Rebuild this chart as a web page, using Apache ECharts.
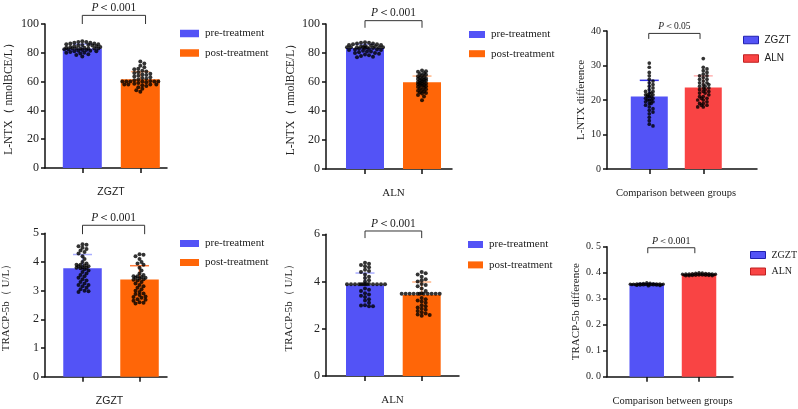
<!DOCTYPE html>
<html><head><meta charset="utf-8">
<script src="https://cdn.jsdelivr.net/npm/echarts@6/dist/echarts.min.js"></script>
<style>html,body{margin:0;padding:0;background:#fff}#c{width:798px;height:409px}</style>
</head><body><div id="c"></div>
<script>
// ---------------- data ----------------
const treatNames = ['pre-treatment', 'post-treatment'];
const groupNames = ['ZGZT', 'ALN'];
const xNames = ['ZGZT', 'ALN', 'Comparison between groups', 'ZGZT', 'ALN', 'Comparison between groups'];
const yNames = ['L-NTX（ nmolBCE/L）', 'L-NTX（ nmolBCE/L）', 'L-NTX difference', 'TRACP-5b（ U/L）', 'TRACP-5b（ U/L）', 'TRACP-5b difference'];
const pValues = ['0.001', '0.001', '0.05', '0.001', '0.001', '0.001'];

const lntxZgztMean = [83.0, 61.6];
const lntxZgztSD = [3.0, 5.3];
const lntxZgztPre = [88,87.5,87.5,87,87,86.5,86.5,86,86,85.5,85.5,85,85,84.5,84.5,84,84,83.5,83.5,83,83,83,83,83,83,82.5,82.5,82,82,81.5,81.5,81,81,80.5,80,80,79.5,79,78.5,77.5];
const lntxZgztPost = [74,72.5,71,70,69,68.5,67.5,67,66.5,66,65.5,65,64.5,64,63.5,63,62.5,62,61.5,61,60.5,60,60,60,60,60,60,59.5,59,58.5,58,58,58,58,57.5,57,56,55,54,53];

const lntxAlnMean = [83.5, 59.8];
const lntxAlnSD = [2.5, 4.3];
const lntxAlnPre = [87.5,87,87,86.5,86.5,86,86,85.5,85.5,85,85,84.5,84.5,84,84,84,84,84,84,84,83.5,83.5,83,83,82.5,82.5,82,82,81.5,81,81,80.5,80,80,79.5,79,78.5,78,77.5,77];
const lntxAlnPost = [68,67.5,67,66,65.5,65,64.5,64,63.5,63,62.5,62,62,61.5,61,61,60.5,60,60,59.5,59,59,58.5,58,58,57.5,57,56.5,56,55.5,55,54.5,54,53.5,53,52.5,52,51,50,47.5];

const lntxDiffMean = [21.0, 23.6];
const lntxDiffSD = [4.7, 3.4];
const lntxDiffZgzt = [30.7,29.5,28,27,26,25.5,25,24.5,24,23.5,23,22.5,22.5,22,22,21.5,21.5,21.5,21,21,21,20.5,20.5,20,20,20,19.5,19.5,19,19,18.5,18,17.5,17,16.5,16,15,14,13,12.5];
const lntxDiffAln = [32,29.5,29,28.5,28,27.5,27,27,26.5,26,26,25.5,25,25,24.5,24.5,24,24,23.5,23.5,23,23,22.5,22.5,22,22,21.5,21,21,20.5,20.5,20,20,19.5,19,19,18.5,18.5,18,18];

const tracpZgztMean = [3.78, 3.39];
const tracpZgztSD = [0.48, 0.48];
const tracpZgztPre = [4.62,4.6,4.55,4.5,4.45,4.4,4.35,4.3,4.2,4.1,4.0,3.95,3.9,3.9,3.88,3.85,3.85,3.82,3.8,3.8,3.78,3.75,3.7,3.65,3.6,3.55,3.5,3.45,3.4,3.35,3.3,3.25,3.2,3.2,3.15,3.1,3.05,3.0,2.98,2.95];
const tracpZgztPost = [4.27,4.25,4.2,4.1,4.0,3.95,3.9,3.8,3.7,3.6,3.55,3.5,3.5,3.48,3.45,3.45,3.42,3.4,3.38,3.35,3.3,3.25,3.2,3.15,3.1,3.05,3.0,2.95,2.9,2.88,2.85,2.8,2.78,2.75,2.7,2.68,2.65,2.6,2.58,2.55];

const tracpAlnMean = [3.84, 3.43];
const tracpAlnSD = [0.52, 0.55];
const tracpAlnPre = [4.8,4.75,4.7,4.65,4.6,4.5,4.45,4.4,4.3,4.2,4.15,4.05,4.0,3.9,3.88,3.88,3.88,3.88,3.88,3.88,3.88,3.88,3.88,3.88,3.88,3.88,3.7,3.65,3.6,3.5,3.45,3.4,3.35,3.25,3.2,3.1,3.0,2.98,2.95,2.95];
const tracpAlnPost = [4.4,4.35,4.3,4.2,4.1,4.05,4.0,3.9,3.85,3.8,3.7,3.6,3.5,3.48,3.48,3.48,3.48,3.48,3.48,3.48,3.48,3.48,3.48,3.48,3.3,3.25,3.2,3.15,3.1,3.0,2.95,2.9,2.85,2.8,2.75,2.7,2.65,2.6,2.58,2.55];

const tracpDiffMean = [0.355, 0.394];
const tracpDiffSD = [0.003, 0.003];
const tracpDiffZgzt = [0.362,0.36,0.359,0.358,0.358,0.357,0.357,0.357,0.356,0.356,0.356,0.356,0.355,0.355,0.355,0.355,0.355,0.355,0.354,0.354,0.354,0.354,0.353,0.353,0.353,0.352,0.352,0.351,0.350,0.349];
const tracpDiffAln = [0.4,0.399,0.398,0.397,0.396,0.396,0.395,0.395,0.395,0.394,0.394,0.394,0.394,0.393,0.393,0.393,0.393,0.392,0.392,0.392,0.391,0.391,0.391,0.390,0.390,0.389,0.389,0.388,0.388,0.388];

// ---------------- styling / layout ----------------
const SERIF = '"Liberation Serif","Times New Roman",serif';
const SANS = '"Liberation Sans",Arial,sans-serif';
const BLUE = '#5353f6', ORANGE = '#ff6608', RED = '#f94444';
const INK = '#222';

const panels = [
  { means: lntxZgztMean, sds: lntxZgztSD, pts: [lntxZgztPre, lntxZgztPost], names: treatNames,
    colors: [BLUE, ORANGE], err: ['#a9adff', '#ffb486'],
    grid: {left: 45, top: 24, width: 122, height: 144}, xr: [0.357, 2.46], yMax: 100, yInt: 20,
    barW: 39, tickFs: 12, nameFs: 11.5, nameGap: 30, xNameFont: SANS, xNameFs: 10.5, xShift: 5,
    pFs: 11.5, br: [1, 106, 2.09, 100], dot: 4, half: [18, 18],
    lg: {left: 180, top: 28, w: 19, h: 7.5, gap: 8.5, font: SERIF, fs: 11}, dec: 0 },
  { means: lntxAlnMean, sds: lntxAlnSD, pts: [lntxAlnPre, lntxAlnPost], names: treatNames,
    colors: [BLUE, ORANGE], err: ['#a9adff', '#ffb486'],
    grid: {left: 326, top: 24, width: 126, height: 145}, xr: [0.316, 2.526], yMax: 100, yInt: 20,
    barW: 38, tickFs: 12, nameFs: 11.5, nameGap: 29, xNameFont: SERIF, xNameFs: 11, xShift: 4.5,
    pFs: 11.5, br: [1, 102.3, 2, 97.4], dot: 4, half: [18, 5],
    lg: {left: 469, top: 29, w: 16, h: 7, gap: 8.2, font: SERIF, fs: 11}, dec: 0 },
  { means: lntxDiffMean, sds: lntxDiffSD, pts: [lntxDiffZgzt, lntxDiffAln], names: groupNames,
    colors: [BLUE, RED], err: ['#3434ea', '#ffb3b3'],
    grid: {left: 607, top: 31, width: 150, height: 138}, xr: [0.217, 2.995], yMax: 40, yInt: 10,
    barW: 37, tickFs: 10, nameFs: 11, nameGap: 19, xNameFont: SERIF, xNameFs: 10.5, xShift: -6,
    pFs: 9.5, br: [0.99, 39.3, 1.94, 37.7], dot: 3.7, half: [5, 7],
    lg: {left: 743, top: 35, w: 15, h: 7.5, gap: 8.5, font: SANS, fs: 10, border: true}, dec: 0 },
  { means: tracpZgztMean, sds: tracpZgztSD, pts: [tracpZgztPre, tracpZgztPost], names: treatNames,
    colors: [BLUE, ORANGE], err: ['#a9adff', '#ff7a3a'],
    grid: {left: 45, top: 233.3, width: 122, height: 143.4}, xr: [0.342, 2.482], yMax: 5, yInt: 1,
    barW: 38.5, tickFs: 12, nameFs: 11, nameGap: 33, xNameFont: SANS, xNameFs: 10.5, xShift: 3.5,
    pFs: 11.5, br: [1, 5.28, 2.09, 4.97], dot: 4, half: [7, 7],
    lg: {left: 180, top: 238, w: 19, h: 7, gap: 8, font: SERIF, fs: 11}, dec: 0 },
  { means: tracpAlnMean, sds: tracpAlnSD, pts: [tracpAlnPre, tracpAlnPost], names: treatNames,
    colors: [BLUE, ORANGE], err: ['#a9adff', '#ffb486'],
    grid: {left: 326, top: 234.3, width: 133, height: 141.7}, xr: [0.312, 2.658], yMax: 6, yInt: 2,
    barW: 38, tickFs: 12, nameFs: 11, nameGap: 31, xNameFont: SERIF, xNameFs: 11, xShift: 0,
    pFs: 11.5, br: [1, 6.14, 2, 5.84], dot: 4, half: [20, 20],
    lg: {left: 468, top: 239, w: 15, h: 7, gap: 9.4, font: SERIF, fs: 11}, dec: 0 },
  { means: tracpDiffMean, sds: tracpDiffSD, pts: [tracpDiffZgzt, tracpDiffAln], names: groupNames,
    colors: [BLUE, RED], err: ['#3434ea', '#ffb3b3'],
    grid: {left: 607, top: 246.7, width: 126, height: 130}, xr: [0.24, 2.65], yMax: 0.5, yInt: 0.1,
    barW: 34.5, tickFs: 10, nameFs: 11, nameGap: 22, xNameFont: SERIF, xNameFs: 10.5, xShift: 2.5,
    pFs: 10, br: [1.02, 0.496, 1.92, 0.475], dot: 3.3, half: [17, 17],
    lg: {left: 750, top: 250, w: 15, h: 7, gap: 6.5, font: SERIF, fs: 10, border: true}, dec: 1 }
];

const chart = echarts.init(document.getElementById('c'), null, {renderer: 'canvas'});
const option = {
  animation: false, backgroundColor: '#fff',
  grid: [], xAxis: [], yAxis: [], series: [], legend: []
};

panels.forEach((p, i) => {
  option.grid.push(Object.assign({containLabel: false}, p.grid));
  const sh = p.xShift;
  option.xAxis.push({
    gridIndex: i, type: 'value', min: p.xr[0], max: p.xr[1],
    axisLine: {show: true, onZero: false, lineStyle: {color: '#111', width: 1.5}},
    axisTick: {show: true, customValues: [1, 2], length: 5, lineStyle: {color: '#111', width: 1.5}},
    axisLabel: {show: false}, splitLine: {show: false},
    name: xNames[i], nameLocation: 'middle', nameGap: 19,
    nameTextStyle: {fontFamily: p.xNameFont, fontSize: p.xNameFs, color: INK,
      padding: sh >= 0 ? [0, 0, 0, 2 * sh] : [0, -2 * sh, 0, 0]}
  });
  option.yAxis.push({
    gridIndex: i, type: 'value', min: 0, max: p.yMax, interval: p.yInt,
    axisLine: {show: true, lineStyle: {color: '#111', width: 1.5}},
    axisTick: {show: true, length: 4, lineStyle: {color: '#111', width: 1.5}},
    axisLabel: {fontFamily: SERIF, fontSize: p.tickFs, color: INK, margin: 6,
      formatter: v => p.dec ? v.toFixed(1).replace('.', '. ') : String(Math.round(v))},
    splitLine: {show: false},
    name: yNames[i], nameLocation: 'middle', nameGap: p.nameGap, nameRotate: 90,
    nameTextStyle: {fontFamily: SERIF, fontSize: p.nameFs, color: INK}
  });
  [0, 1].forEach(k => {
    option.series.push({
      type: 'bar', name: p.names[k], xAxisIndex: i, yAxisIndex: i,
      data: [[k + 1, p.means[k]]], barWidth: p.barW, barGap: '-100%',
      itemStyle: {color: p.colors[k]}, z: 2, silent: true
    });
  });
  // SD error bars (lower half hidden behind the bar, as in the original)
  option.series.push({
    type: 'custom', name: 'sd' + i, xAxisIndex: i, yAxisIndex: i, z: 1, silent: true,
    data: [[1, p.means[0], p.sds[0], 0], [2, p.means[1], p.sds[1], 1]],
    renderItem: (params, api) => {
      const x = api.value(0), m = api.value(1), s = api.value(2);
      const t = api.coord([x, m + s]), b = api.coord([x, m - s]);
      const hw = 9.5, col = p.err[api.value(3)];
      const st = {stroke: col, lineWidth: 1.5};
      return {type: 'group', children: [
        {type: 'line', shape: {x1: t[0], y1: t[1], x2: b[0], y2: b[1]}, style: st},
        {type: 'line', shape: {x1: t[0] - hw, y1: t[1], x2: t[0] + hw, y2: t[1]}, style: st}
      ]};
    }
  });
  [0, 1].forEach(k => {
    option.series.push({
      type: 'scatter', id: 'pts' + i + '_' + k, name: 'points', xAxisIndex: i, yAxisIndex: i,
      data: [], symbolSize: p.dot, itemStyle: {color: '#000'}, z: 3, silent: true
    });
  });
  option.series.push({
    type: 'custom', name: 'sig' + i, xAxisIndex: i, yAxisIndex: i, z: 4, clip: false, silent: true,
    data: [p.br],
    renderItem: (params, api) => {
      const a = api.coord([api.value(0), api.value(1)]);
      const b = api.coord([api.value(2), api.value(1)]);
      const legY = api.coord([api.value(0), api.value(3)])[1];
      return {type: 'group', children: [
        {type: 'polyline', shape: {points: [[a[0], legY], [a[0], a[1]], [b[0], a[1]], [b[0], legY]]},
          style: {stroke: '#333', lineWidth: 1, fill: null}},
        {type: 'text', x: (a[0] + b[0]) / 2, y: a[1] - 1.5,
          style: {text: '{i|P}＜' + pValues[i], fontFamily: SERIF, fontSize: p.pFs, fill: INK,
            align: 'center', verticalAlign: 'bottom',
            rich: {i: {fontStyle: 'italic', fontFamily: SERIF, fontSize: p.pFs, fill: INK}}}}
      ]};
    }
  });
  option.legend.push({
    left: p.lg.left, top: p.lg.top, orient: 'vertical', padding: 0,
    itemWidth: p.lg.w, itemHeight: p.lg.h, itemGap: p.lg.gap, icon: 'rect', selectedMode: false,
    data: p.names.map((n, k) => ({name: n, itemStyle: p.lg.border ?
      {color: p.colors[k], borderColor: k ? '#c02020' : '#2020b0', borderWidth: 1} : {color: p.colors[k]}})),
    textStyle: {fontFamily: p.lg.font, fontSize: p.lg.fs, color: INK, padding: [0, 0, 0, 1]}
  });
});

chart.setOption(option);

// beeswarm placement of dots, computed through the chart's own scales
function swarm(values, gi, xc, d, maxHalf) {
  const cx = chart.convertToPixel({gridIndex: gi}, [xc, 0])[0];
  const unit = chart.convertToPixel({gridIndex: gi}, [xc + 1, 0])[0] - cx;
  const ys = values.map(v => chart.convertToPixel({gridIndex: gi}, [xc, v])[1]);
  const order = values.map((v, i) => i).sort((a, b) => values[b] - values[a]);
  const placed = [], out = new Array(values.length);
  const step = d / 2, need = d * 0.82;
  order.forEach(i => {
    const y = ys[i];
    let best = 0, bestScore = -1, done = false;
    for (let k = 0; k * step <= maxHalf && !done; k++) {
      for (const sg of (k === 0 ? [1] : [1, -1])) {
        const dx = sg * k * step;
        let minD = Infinity;
        for (const q of placed) {
          const dd = Math.hypot(q[0] - dx, q[1] - y);
          if (dd < minD) minD = dd;
        }
        if (minD >= need) { best = dx; done = true; break; }
        if (minD > bestScore) { bestScore = minD; best = dx; }
      }
    }
    placed.push([best, y]);
    out[i] = [xc + best / unit, values[i]];
  });
  return out;
}

const upd = [];
panels.forEach((p, i) => {
  [0, 1].forEach(k => {
    upd.push({id: 'pts' + i + '_' + k, data: swarm(p.pts[k], i, k + 1, p.dot, p.half[k])});
  });
});
chart.setOption({series: upd});
</script>
</body></html>
